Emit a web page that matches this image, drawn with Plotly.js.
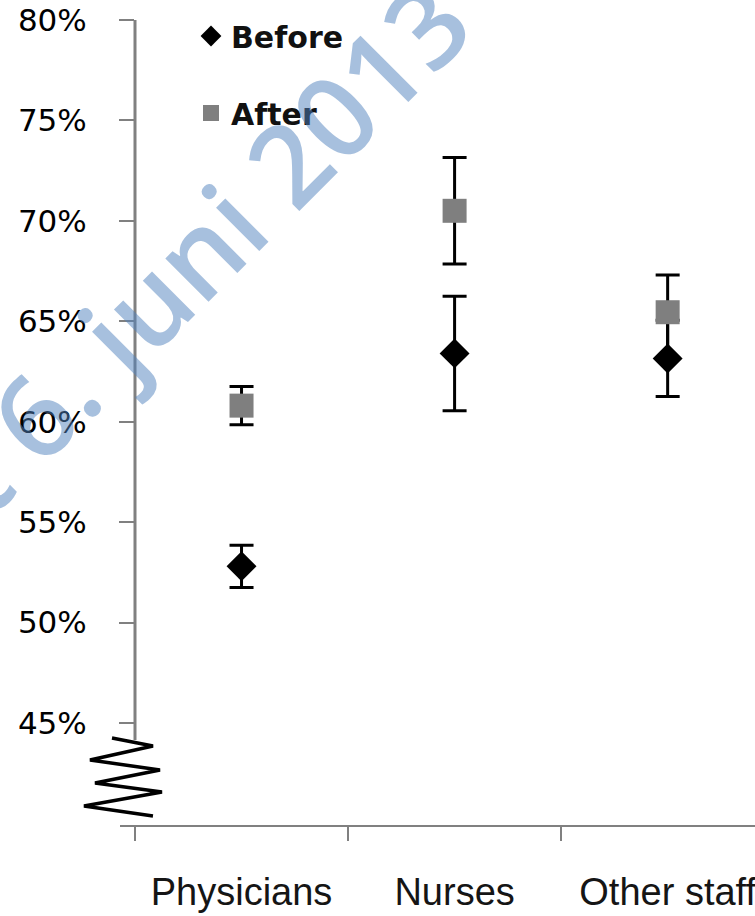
<!DOCTYPE html>
<html>
<head>
<meta charset="utf-8">
<script src="https://cdn.plot.ly/plotly-3.0.1.min.js"></script>
<style>html,body{margin:0;padding:0;background:#fff;}#chart{width:755px;height:916px;}</style>
</head>
<body>
<div id="chart"></div>
<script>
// ---- data ----
const categories = ["Physicians", "Nurses", "Other staff"];
const beforeValues = [52.8, 63.4, 63.15];
const beforeErrorsPlus = [1.05, 2.85, 1.9];
const beforeErrorsMinus = [1.05, 2.85, 1.9];
const afterValues = [60.8, 70.5, 65.45];
const afterErrorsPlus = [0.95, 2.65, 1.85];
const afterErrorsMinus = [0.95, 2.65, 2.3];
const yTickValues = [45, 50, 55, 60, 65, 70, 75, 80];
const yTickLabels = ["45%", "50%", "55%", "60%", "65%", "70%", "75%", "80%"];
const seriesNames = ["Before", "After"];
const watermarkText = "Nedlastet 6. juni 2013";

// ---- layout geometry ----
const W = 755, H = 916;
const mL = 135, mR = 0, mT = 20, mB = 90;
const plotW = W - mL - mR, plotH = H - mT - mB;
const yRange = [39.87, 80];
const pxPerUnit = plotH / (yRange[1] - yRange[0]);
const px2paperX = px => (px - mL) / plotW;
const py2paperY = py => (H - mB - py) / plotH;
const py2dataY = py => yRange[1] - (py - mT) / pxPerUnit;

// axis-break zigzag (decoration), pixel offsets
const zig = [[112,738],[153,746],[90,760],[160,770],[95,783],[162,792],[84,806],[153,816]];
const zigPath = zig.map((p, i) => (i ? "L" : "M") + px2paperX(p[0]).toFixed(4) + "," + py2dataY(p[1]).toFixed(3)).join(" ");

const errStyle = {color: "#000", thickness: 3, width: 12, visible: true, type: "data", symmetric: false};
const traces = [
  // error bars first (drawn beneath all markers)
  {type: "scatter", mode: "markers", showlegend: false, hoverinfo: "skip",
   x: categories, y: beforeValues, marker: {size: 1, opacity: 0},
   error_y: Object.assign({array: beforeErrorsPlus, arrayminus: beforeErrorsMinus}, errStyle)},
  {type: "scatter", mode: "markers", showlegend: false, hoverinfo: "skip",
   x: categories, y: afterValues, marker: {size: 1, opacity: 0},
   error_y: Object.assign({array: afterErrorsPlus, arrayminus: afterErrorsMinus}, errStyle)},
  // markers
  {type: "scatter", mode: "markers", name: seriesNames[0], legend: "legend",
   x: categories, y: beforeValues, marker: {symbol: "diamond", size: 23, color: "#000"}},
  {type: "scatter", mode: "markers", name: seriesNames[1], legend: "legend2",
   x: categories, y: afterValues, marker: {symbol: "square", size: 24, color: "#7f7f7f"}}
];

const legendFont = {family: "DejaVu Sans", size: 30, weight: "bold", color: "#111"};
const layout = {
  width: W, height: H,
  margin: {l: mL, r: mR, t: mT, b: mB, pad: 0, autoexpand: false},
  paper_bgcolor: "#fff", plot_bgcolor: "#fff",
  xaxis: {
    type: "category", range: [-0.5, 2.41], tickson: "boundaries", tickangle: 0,
    ticks: "outside", ticklen: 14, tickwidth: 2, tickcolor: "#808080",
    showline: false, showgrid: false, zeroline: false,
    tickfont: {family: "Liberation Sans", size: 38, color: "#151515"},
    ticklabelstandoff: 40, automargin: false, fixedrange: true
  },
  yaxis: {
    range: yRange, tickmode: "array", tickvals: yTickValues, ticktext: yTickLabels,
    ticks: "outside", ticklen: 15, tickwidth: 2, tickcolor: "#808080",
    showline: false, showgrid: false, zeroline: false,
    tickfont: {family: "DejaVu Sans", size: 31, color: "#000"},
    ticklabelstandoff: 26, automargin: false, fixedrange: true
  },
  legend: {x: px2paperX(191), y: py2paperY(36), xanchor: "left", yanchor: "middle",
           bgcolor: "rgba(0,0,0,0)", font: legendFont, itemclick: false},
  legend2: {x: px2paperX(191), y: py2paperY(113), xanchor: "left", yanchor: "middle",
            bgcolor: "rgba(0,0,0,0)", font: legendFont, itemclick: false},
  shapes: [
    {type: "line", xref: "paper", yref: "y", x0: 0, x1: 0, y0: py2dataY(740), y1: yRange[1],
     line: {color: "#808080", width: 3}},
    {type: "line", xref: "paper", yref: "paper", x0: px2paperX(120), x1: 1, y0: 0, y1: 0,
     line: {color: "#808080", width: 2}},
    {type: "path", xref: "paper", yref: "y", path: zigPath, line: {color: "#000", width: 3.5}}
  ],
  annotations: [
    {xref: "paper", yref: "paper", x: px2paperX(30), y: py2paperY(418), xanchor: "center", yanchor: "middle",
     text: watermarkText, textangle: -45, showarrow: false,
     font: {family: "Open Sans", size: 113, weight: 600, color: "rgba(79,129,189,0.5)"}}
  ],
  showlegend: true
};

Plotly.newPlot("chart", traces, layout, {displayModeBar: false, staticPlot: true});
</script>
</body>
</html>
